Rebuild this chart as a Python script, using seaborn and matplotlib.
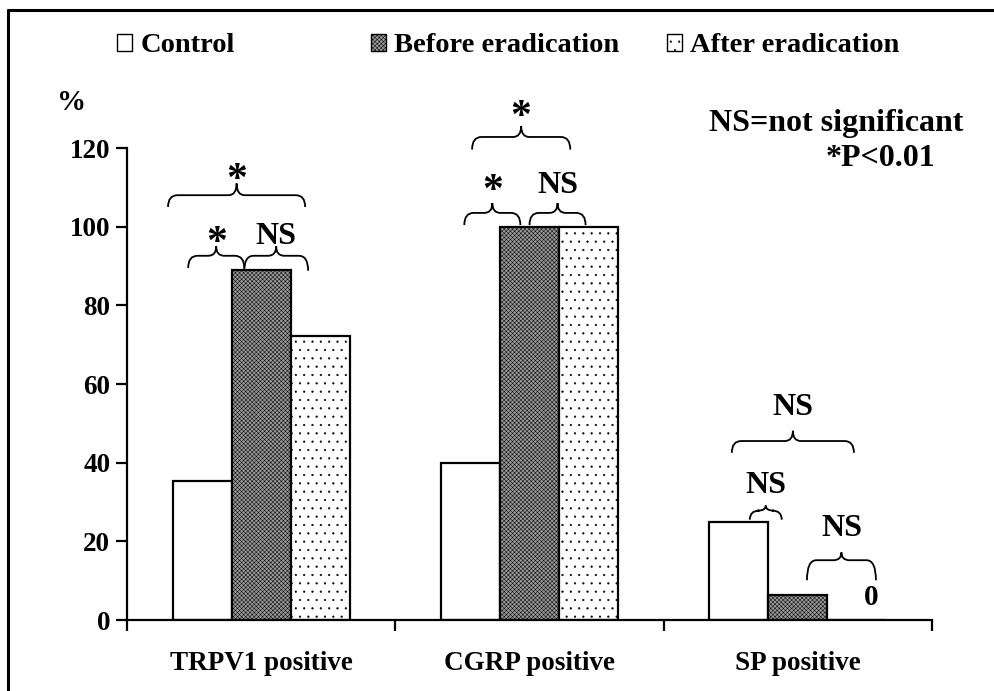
import numpy as np
import pandas as pd
import seaborn as sns
import matplotlib.pyplot as plt
from matplotlib.patches import Patch, PathPatch
from matplotlib.path import Path
from matplotlib.lines import Line2D

# --- data ---
categories = ['TRPV1 positive', 'CGRP positive', 'SP positive']
groups = ['Control', 'Before eradication', 'After eradication']
control = [35.3, 40.0, 25.0]
before = [88.9, 100.0, 6.25]
after = [72.2, 100.0, 0.0]

# significance braces: (category index, x0, x1, y_end, y_flat, y_peak, label, label_y)
braces = [
    (0, -0.347, 0.164, 105.0, 108.0, 111.0, '*', 113.7),
    (0, -0.272, -0.063, 89.5, 92.6, 95.0, '*', 97.5),
    (0, -0.063, 0.175, 88.8, 92.6, 95.0, 'NS', 97.5),
    (1, -0.214, 0.152, 119.6, 122.8, 125.6, '*', 129.5),
    (1, -0.243, -0.034, 100.4, 103.5, 106.0, '*', 110.7),
    (1, 0.000, 0.209, 100.4, 103.5, 106.0, 'NS', 110.5),
    (2, -0.246, 0.209, 42.5, 45.5, 48.1, 'NS', 53.9),
    (2, -0.179, -0.060, 25.5, 27.8, 29.1, 'NS', 34.2),
    (2, 0.034, 0.291, 10.1, 15.2, 17.2, 'NS', 23.3),
]

df = pd.DataFrame({
    'category': np.repeat(categories, 3),
    'group': groups * 3,
    'value': [v for trio in zip(control, before, after) for v in trio],
})

sns.set_style('white')
plt.rcParams['font.family'] = ['Liberation Serif', 'DejaVu Serif']
plt.rcParams['font.weight'] = 'bold'
plt.rcParams['hatch.linewidth'] = 0.35
for key in ['text.color', 'axes.labelcolor', 'xtick.color', 'ytick.color']:
    plt.rcParams[key] = 'black'

W, H = 994, 691
fig = plt.figure(figsize=(W / 100, H / 100), dpi=100)
ax = fig.add_axes([127 / W, 1 - 620 / H, (932 - 127) / W, (620 - 148) / H])

sns.barplot(data=df, x='category', y='value', hue='group', order=categories,
            hue_order=groups, width=0.66, ax=ax, legend=False, errorbar=None)

styles = [
    dict(facecolor='white', hatch=None),
    dict(facecolor='#9a9a9a', hatch='xxxxxxxx'),
    dict(facecolor='white', hatch='..'),
]
for cont, st in zip(ax.containers, styles):
    for bar in cont:
        bar.set_facecolor(st['facecolor'])
        bar.set_edgecolor('black')
        bar.set_linewidth(1.6)
        if st['hatch']:
            bar.set_hatch(st['hatch'])

ax.set_ylim(0, 120)
ax.set_xlim(-0.5, 2.5)
ax.set_yticks(range(0, 121, 20))
ax.set_xticks([-0.5, 0.5, 1.5, 2.5])
ax.set_xticklabels([])
ax.set_xticks(range(3), categories, minor=True)
ax.tick_params(axis='x', which='minor', length=0, pad=22, labelsize=19.5)
ax.tick_params(axis='x', which='major', length=8, width=1.6, direction='out', bottom=True)
ax.tick_params(axis='y', length=8, width=1.6, direction='out', left=True, labelsize=19.5, pad=4)
for lab in ax.get_yticklabels() + ax.get_xticklabels(minor=True):
    lab.set_fontweight('bold')
ax.set_xlabel('')
ax.set_ylabel('')
sns.despine(ax=ax)
for s in ['left', 'bottom']:
    ax.spines[s].set_linewidth(1.6)
    ax.spines[s].set_color('black')


def brace(ax, x0, x1, y_end, y_flat, y_peak, rx=0.035, rm=0.03):
    xm = (x0 + x1) / 2
    verts = [(x0, y_end), (x0, y_flat), (x0 + rx, y_flat),
             (xm - rm, y_flat),
             (xm, y_flat), (xm, y_peak),
             (xm, y_flat), (xm + rm, y_flat),
             (x1 - rx, y_flat),
             (x1, y_flat), (x1, y_end)]
    codes = [Path.MOVETO, Path.CURVE3, Path.CURVE3,
             Path.LINETO,
             Path.CURVE3, Path.CURVE3,
             Path.CURVE3, Path.CURVE3,
             Path.LINETO,
             Path.CURVE3, Path.CURVE3]
    ax.add_patch(PathPatch(Path(verts, codes), facecolor='none',
                           edgecolor='black', lw=1.3, clip_on=False))


for ci, x0, x1, ye, yf, yp, lab, ly in braces:
    brace(ax, ci + x0, ci + x1, ye, yf, yp)
    xm = ci + (x0 + x1) / 2
    if lab == '*':
        ax.text(xm, ly - 2.0, lab, ha='center', va='center', fontsize=30,
                fontweight='bold', clip_on=False)
    else:
        ax.text(xm, ly, lab, ha='center', va='center', fontsize=23,
                fontweight='bold', clip_on=False)

ax.text(2 + 0.272, 5.6, '0', ha='center', va='center', fontsize=21, fontweight='bold')

fig.text(72 / W, 1 - 103 / H, '%', ha='center', va='center', fontsize=21, fontweight='bold')
fig.text(963 / W, 1 - 123 / H, 'NS=not significant', ha='right', va='center',
         fontsize=23, fontweight='bold')
fig.text(935 / W, 1 - 158 / H, '*P<0.01', ha='right', va='center',
         fontsize=23, fontweight='bold')

# legend entries, one per group
legend_x = [106, 360, 656]
for gx, name, st in zip(legend_x, groups, styles):
    h = Patch(facecolor=st['facecolor'], edgecolor='black', hatch=st['hatch'], lw=1.0)
    fig.legend(handles=[h], labels=[name], loc='center left',
               bbox_to_anchor=(gx / W, 1 - 46 / H), frameon=False,
               handlelength=0.5, handleheight=0.5, handletextpad=0.3,
               prop={'size': 20.5, 'weight': 'bold'}, borderaxespad=0)

# outer frame (only top and left edges fall inside the picture)
fig.add_artist(Line2D([8 / W, 1.0], [1 - 10 / H, 1 - 10 / H], color='black', lw=2.2))
fig.add_artist(Line2D([8 / W, 8 / W], [0, 1 - 10 / H], color='black', lw=2.2))

fig.savefig('out.png', dpi=100)
